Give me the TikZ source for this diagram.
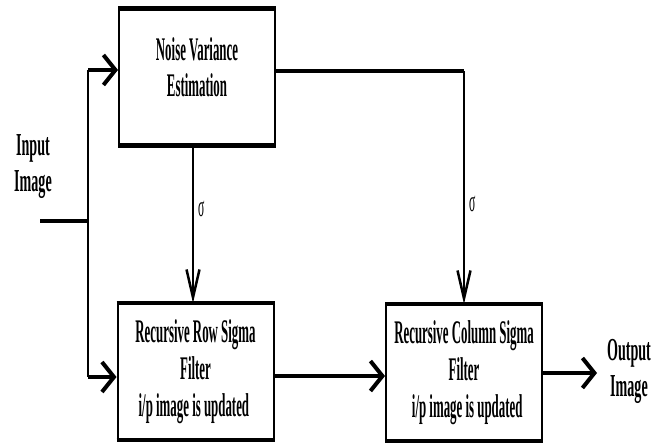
\documentclass[tikz,border=0pt]{standalone}
\usepackage{fontspec}
\setmainfont{Liberation Serif}[FakeStretch=0.39]
\newfontfamily\labelfont{Liberation Serif}[FakeStretch=0.44]
\usetikzlibrary{arrows.meta}
\begin{document}
\begin{tikzpicture}[x=1pt,y=-1pt,
    block/.style={draw,line width=2pt,minimum width=156pt,minimum height=135pt,
      inner sep=0pt,align=center,font=\fontsize{33}{37}\selectfont\bfseries},
    boxtext/.style={inner sep=0pt,align=center,font=\fontsize{33}{36}\selectfont\bfseries},
    edge/.style={line width=4.5pt},
    label/.style={font=\labelfont\fontsize{32}{36}\selectfont\bfseries,align=center,inner sep=0pt},
    sig/.style={font=\fontsize{30}{32}\selectfont,inner sep=0pt},
    hwire/.style={line width=4.5pt},
    vwire/.style={line width=2pt},
    harrow/.style={-{Straight Barb[length=12pt,width=30pt,line width=4pt]}},
    varrow/.style={-{Straight Barb[length=28pt,width=13pt,line width=2.5pt]}}]
    \useasboundingbox (0,0) rectangle (664,446);

    % Draw blocks
    \node[block] (est) at (197,77) {};
    \node[boxtext] (esttxt) at (197,67) {Noise Variance\\Estimation};
    \node[block] (row) at (195.5,371.5) {Recursive Row Sigma\\Filter\\i/p image is updated\ \ };
    \node[block] (col) at (464,372.5) {Recursive Column Sigma\\Filter\\\ \ i/p image is updated};
    \foreach \b in {est,row,col} {
        \draw[edge] (\b.north west) -- (\b.north east);
        \draw[edge] (\b.south west) -- (\b.south east);
    }

    % Input and output
    \node[label] (inlbl) at (33,167) {Input\\Image};
    \node[label] (outlbl) at (629,371) {Output\\Image};
    \coordinate (in) at (40,221);
    \coordinate (fork) at (88,221);
    \coordinate (out) at (597,373);
    \coordinate (estin) at ([yshift=7pt]est.west);
    \coordinate (rowin) at ([yshift=-5.5pt]row.west);
    \coordinate (estout) at ([yshift=6pt]est.east);

    % Draw input connectors
    \draw[hwire] (in) -- (fork);
    \draw[vwire] (fork |- estin) -- (fork |- rowin);
    \draw[hwire,harrow] (fork |- estin) -- (estin);
    \draw[hwire,harrow] (fork |- rowin) -- (rowin);

    % Draw sigma connectors
    \coordinate (bend) at (col.north |- estout);
    \draw[hwire] (estout) -- (bend);
    \draw[vwire,varrow] (bend) -- node[sig,right=4pt,pos=0.57] {σ} (col.north);
    \draw[vwire,varrow] ([xshift=-4pt]est.south) -- node[sig,right=4pt,pos=0.4] {σ} ([xshift=-2.5pt]row.north);

    % Draw filter chain
    \draw[hwire,harrow] ([yshift=-4.5pt]row.east) -- ([yshift=-3.5pt]col.west);
    \draw[hwire,harrow] (col.east |- out) -- (out);
\end{tikzpicture}
\end{document}
